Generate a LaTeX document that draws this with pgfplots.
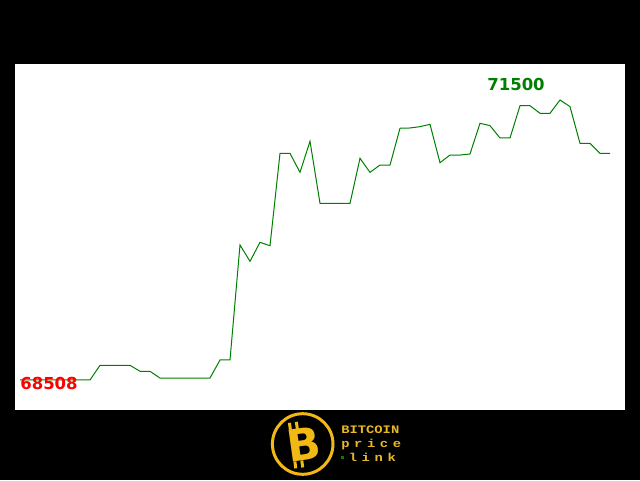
\documentclass[border=0pt]{standalone}
\usepackage{pgfplots}
\pgfplotsset{compat=1.18}
\usepackage{fontspec}
\setmainfont{DejaVu Sans}
\newfontfamily\monofont{Liberation Mono}
\definecolor{linegreen}{RGB}{0,128,0}
\definecolor{lblgreen}{RGB}{0,128,0}
\definecolor{lblred}{RGB}{255,0,0}
\definecolor{logoyellow}{RGB}{242,185,20}
\definecolor{logotext}{RGB}{232,184,40}
\pgfplotstableread{
i v
0 68508
1 68508
2 68508
3 68508
4 68508
5 68508
6 68508
7 68508
8 68665
9 68665
10 68665
11 68665
12 68601
13 68601
14 68529
15 68529
16 68529
17 68529
18 68529
19 68529
20 68722
21 68722
22 69951
23 69776
24 69979
25 69943
26 70930
27 70930
28 70727
29 71059
30 70396
31 70396
32 70396
33 70396
34 70877
35 70727
36 70805
37 70805
38 71198
39 71201
40 71215
41 71240
42 70830
43 70912
44 70912
45 70923
46 71251
47 71226
48 71094
49 71094
50 71439
51 71439
52 71358
53 71358
54 71500
55 71429
56 71037
57 71037
58 70930
59 70930
}\pricedata
\newcommand{\gp}{\hspace{3.6pt}}
\begin{document}
\begin{tikzpicture}[x=1pt,y=1pt]
\useasboundingbox (0,0) rectangle (640,480);
\fill[black] (0,0) rectangle (640,480);
\fill[white] (15,70) rectangle (625,416);
\begin{axis}[
  at={(15pt,70pt)}, anchor=south west,
  width=610pt, height=346pt, scale only axis,
  hide axis, clip=false,
  xmin=-0.5, xmax=60.5,
  ymin=68187.4, ymax=71884.7,
]
\addplot[color=linegreen, line width=1pt, mark=none] table[x=i,y=v] {\pricedata};
\node[text=lblgreen, font=\fontsize{16.5}{18}\selectfont\bfseries] at (axis cs:49.6,71671) {71500};
\node[text=lblred, font=\fontsize{16.5}{18}\selectfont\bfseries] at (axis cs:2.9,68476) {68508};
\end{axis}
% logo
\draw[logoyellow, line width=3pt] (302.7,36) circle (30.3);
\node[text=logoyellow, rotate=8, font=\fontsize{44}{44}\selectfont\bfseries] at (304,36) {B};
\fill[logoyellow, rotate around={8:(304,36)}] (291,52) rectangle (294,59);
\fill[logoyellow, rotate around={8:(304,36)}] (298,52) rectangle (301,59);
\fill[logoyellow, rotate around={8:(304,36)}] (291,13) rectangle (294,20);
\fill[logoyellow, rotate around={8:(304,36)}] (298,13) rectangle (301,20);
\node[anchor=north west, text=logotext, inner sep=0, xscale=1.28, yscale=1.06, align=left,
  font=\monofont\bfseries\fontsize{10.8}{13.2}\selectfont] at (341,54.2)
  {BITCOIN\\p\gp r\gp i\gp c\gp e\\\textcolor{linegreen}{\rule[2.8pt]{2.3pt}{2.3pt}}\hspace{3.6pt}l\gp i\gp n\gp k};
\end{tikzpicture}
\end{document}
